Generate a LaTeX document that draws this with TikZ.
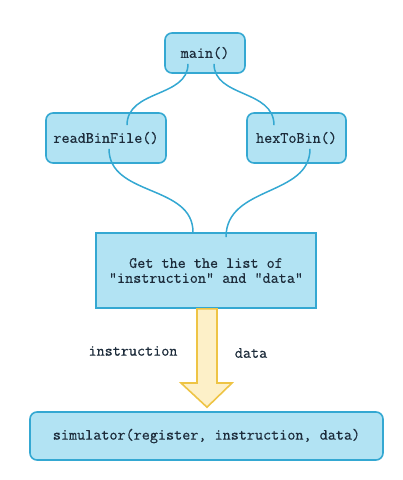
\documentclass[tikz,border=0pt]{standalone}
\usepackage{fontspec}
\newfontfamily\cour{Latin Modern Mono}[FakeBold=0.5]
\usetikzlibrary{calc}
\definecolor{boxfill}{HTML}{B2E3F3}
\definecolor{boxline}{HTML}{34A8D2}
\definecolor{txt}{HTML}{1C2B3A}
\definecolor{arrfill}{HTML}{FDF0C8}
\definecolor{arrline}{HTML}{EEC445}
\tikzset{
  fbox/.style={draw=boxline, fill=boxfill, line width=1.6pt, rounded corners=7pt,
    text=txt, font=\cour\fontsize{15.7}{15}\selectfont, inner sep=0pt, align=center},
  sqbox/.style={fbox, rounded corners=0pt},
  link/.style={draw=boxline, line width=1.5pt},
  lbl/.style={text=txt, font=\cour\fontsize{15.7}{15}\selectfont, inner sep=0pt}
}
\begin{document}
\begin{tikzpicture}[x=1pt,y=-1pt]
\useasboundingbox (0,0) rectangle (403,480);
\node[fbox, minimum width=80pt, minimum height=40pt] (main) at (205,53) {main()};
\node[fbox, minimum width=120pt, minimum height=50pt] (rbf) at (106,138) {readBinFile()};
\node[fbox, minimum width=99pt, minimum height=50pt] (htb) at (296.5,138) {hexToBin()};
\node[sqbox, minimum width=220pt, minimum height=75pt] (get) at (206,270.5) {Get the the list of\\"instruction" and "data"};
\node[fbox, minimum width=353pt, minimum height=48pt] (sim) at (206.5,436) {simulator(register, instruction, data)};
% connectors
\coordinate (m1) at ($(main.south)+(-17,-10)$);
\coordinate (m2) at ($(main.south)+(9,-10)$);
\coordinate (r1) at ($(rbf.north)+(21,13)$);
\coordinate (h1) at ($(htb.north)+(-22.5,13)$);
\coordinate (r2) at ($(rbf.south)+(3,-15)$);
\coordinate (h2) at ($(htb.south)+(13.5,-15)$);
\coordinate (g1) at ($(get.north)+(-13,0)$);
\coordinate (g2) at ($(get.north)+(20,5)$);
\draw[link] (m1) .. controls ($(m1)+(0,34)$) and ($(r1)+(0,-36)$) .. (r1);
\draw[link] (m2) .. controls ($(m2)+(0,34)$) and ($(h1)+(0,-36)$) .. (h1);
\draw[link] (r2) .. controls ($(r2)+(0,48)$) and ($(g1)+(0,-48)$) .. (g1);
\draw[link] (h2) .. controls ($(h2)+(0,48)$) and ($(g2)+(0,-52)$) .. (g2);
% big arrow
\draw[draw=arrline, fill=arrfill, line width=1.6pt, line join=miter]
  ($(get.south)+(-9,0)$) -- ($(get.south)+(11,0)$) -- (217,383) -- (232,383)
  -- ($(sim.north)+(0.5,-4)$) -- (181,383) -- (197,383) -- cycle;
\node[lbl] (lin) at (133,351) {instruction};
\node[lbl] (ldata) at (251,353) {data};
\end{tikzpicture}
\end{document}
